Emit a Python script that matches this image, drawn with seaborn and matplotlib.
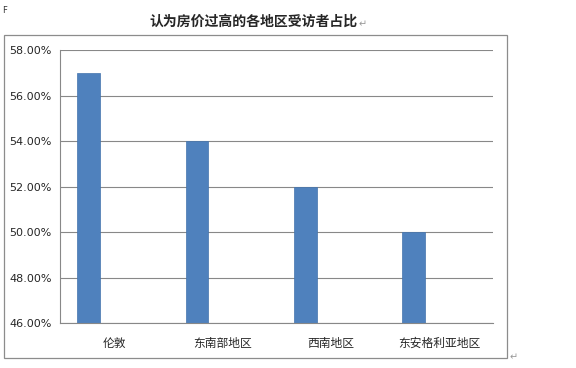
import matplotlib
matplotlib.use('Agg')
import matplotlib.pyplot as plt
import matplotlib.patches as mpatches
from matplotlib.ticker import FuncFormatter, FixedLocator
import seaborn as sns
import pandas as pd

# --- Data ---
regions = ['伦敦', '东南部地区', '西南地区', '东安格利亚地区']
shares = [0.57, 0.54, 0.52, 0.50]
title = '认为房价过高的各地区受访者占比'

df = pd.DataFrame({'region': regions, 'share': shares})

sns.set_style('white')
plt.rcParams['font.family'] = ['Noto Sans CJK SC', 'DejaVu Sans']

fig = plt.figure(figsize=(5.76, 3.68), dpi=100)
ax = fig.add_axes([0.104, 0.122, 0.752, 0.742])

sns.barplot(data=df, x='region', y='share', color='#4f81bd', width=0.21,
            saturation=1, ax=ax)

# bars sit left of the category centre (Excel-style clustered bars)
for p in ax.patches:
    p.set_x(p.get_x() - 0.235)
    p.set_edgecolor('#4474ad')
    p.set_linewidth(0.5)

ax.set_ylim(0.46, 0.58)
ax.set_xlim(-0.5, 3.5)
ax.set_yticks([0.46, 0.48, 0.50, 0.52, 0.54, 0.56, 0.58])
ax.yaxis.set_major_formatter(FuncFormatter(lambda v, _: f'{v * 100:.2f}%'))
ax.xaxis.set_minor_locator(FixedLocator([-0.5, 0.5, 1.5, 2.5, 3.5]))
ax.tick_params(axis='x', which='major', length=0, pad=10, labelsize=8.5)
ax.tick_params(axis='x', which='minor', length=4, color='#888888', width=0.8, direction='out')
ax.tick_params(axis='y', length=4, color='#888888', width=0.8, direction='out',
               labelsize=8, pad=2)
for lab in ax.get_yticklabels():
    lab.set_family('DejaVu Sans')

ax.set_xlabel('')
ax.set_ylabel('')
ax.grid(axis='y', color='#888888', linewidth=0.8)
ax.set_axisbelow(True)
for side in ['top', 'right']:
    ax.spines[side].set_visible(False)
for side in ['left', 'bottom']:
    ax.spines[side].set_color('#888888')
    ax.spines[side].set_linewidth(0.8)

# outer chart border
fig.patches.append(mpatches.Rectangle((0.007, 0.027), 0.873, 0.878,
                                      transform=fig.transFigure, fill=False,
                                      edgecolor='#8c8c8c', linewidth=0.9))

fig.text(0.44, 0.94, title, ha='center', va='center', fontsize=10,
         fontweight='bold')
fig.text(0.622, 0.935, '↵', ha='left', va='center', fontsize=7, color='#999999',
         family=['DejaVu Sans'])
fig.text(0.884, 0.03, '↵', ha='left', va='center', fontsize=7, color='#999999',
         family=['DejaVu Sans'])
fig.text(0.004, 0.985, 'F', ha='left', va='top', fontsize=6, color='#333333',
         family=['DejaVu Sans'])

fig.savefig('out.png', dpi=100)
